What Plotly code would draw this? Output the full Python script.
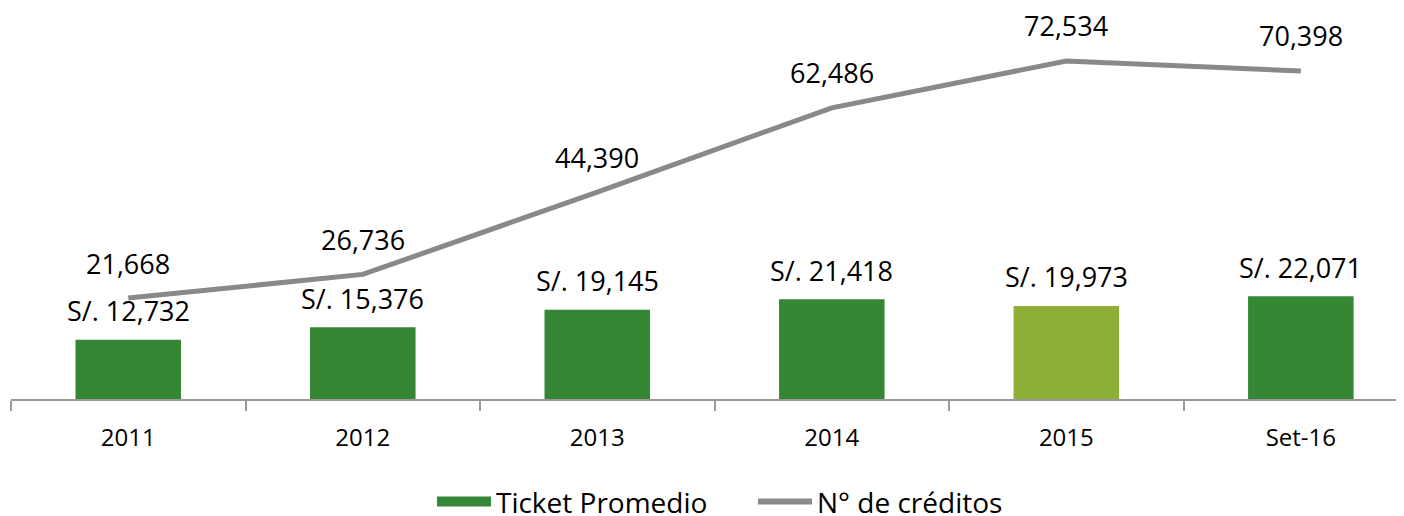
import plotly.graph_objects as go

categories = ["2011", "2012", "2013", "2014", "2015", "Set-16"]
ticket_promedio = [12732, 15376, 19145, 21418, 19973, 22071]
n_creditos = [21668, 26736, 44390, 62486, 72534, 70398]
bar_colors = ["#358635", "#358635", "#358635", "#358635", "#8DAF35", "#358635"]
series_names = ["Ticket Promedio", "N° de créditos"]

FONT = "Open Sans"
GREEN = "#358635"
GREY = "#898989"

fig = go.Figure()
fig.add_trace(go.Bar(
    x=categories, y=ticket_promedio, name=series_names[0],
    marker=dict(color=bar_colors, line=dict(width=0)),
    width=0.45, showlegend=False,
))
fig.add_trace(go.Scatter(
    x=categories, y=n_creditos, name=series_names[1], mode="lines",
    line=dict(color=GREY, width=5), showlegend=False,
))
# legend-only entries (wide swatches like the original)
fig.add_trace(go.Scatter(x=[None], y=[None], mode="lines", name=series_names[0],
                         line=dict(color=GREEN, width=16)))
fig.add_trace(go.Scatter(x=[None], y=[None], mode="lines", name=series_names[1],
                         line=dict(color=GREY, width=6)))

annotations = []
for i, v in enumerate(ticket_promedio):
    annotations.append(dict(x=i, y=v, xref="x", yref="y", text=f"S/. {v:,}", showarrow=False,
                            yshift=29, font=dict(size=27, color="#000000", family=FONT)))
for i, v in enumerate(n_creditos):
    annotations.append(dict(x=i, y=v, xref="x", yref="y", text=f"{v:,}", showarrow=False,
                            yshift=35, font=dict(size=27, color="#000000", family=FONT)))

fig.update_layout(
    width=1404, height=516,
    margin=dict(l=3, r=0, t=2, b=125, autoexpand=False),
    paper_bgcolor="white", plot_bgcolor="white",
    font=dict(family=FONT, color="#000000"),
    annotations=annotations,
    showlegend=True,
    legend=dict(orientation="h", x=0.5296, xanchor="center", y=-0.2645, yanchor="middle",
                font=dict(size=28, family=FONT), itemwidth=54, traceorder="normal",
                entrywidth=252, entrywidthmode="pixels"),
    bargap=0.55,
)
fig.update_xaxes(
    type="category", range=[-0.5, 5.474],
    showline=True, linecolor="#999999", linewidth=2,
    ticks="outside", tickson="boundaries", ticklen=10, tickcolor="#999999", tickwidth=2,
    tickfont=dict(size=24, family=FONT, color="#000000"),
    ticklabelstandoff=16, showgrid=False, automargin=False,
)
fig.update_yaxes(range=[0, 83476], visible=False, showgrid=False, automargin=False)

fig.write_html("out.html")
